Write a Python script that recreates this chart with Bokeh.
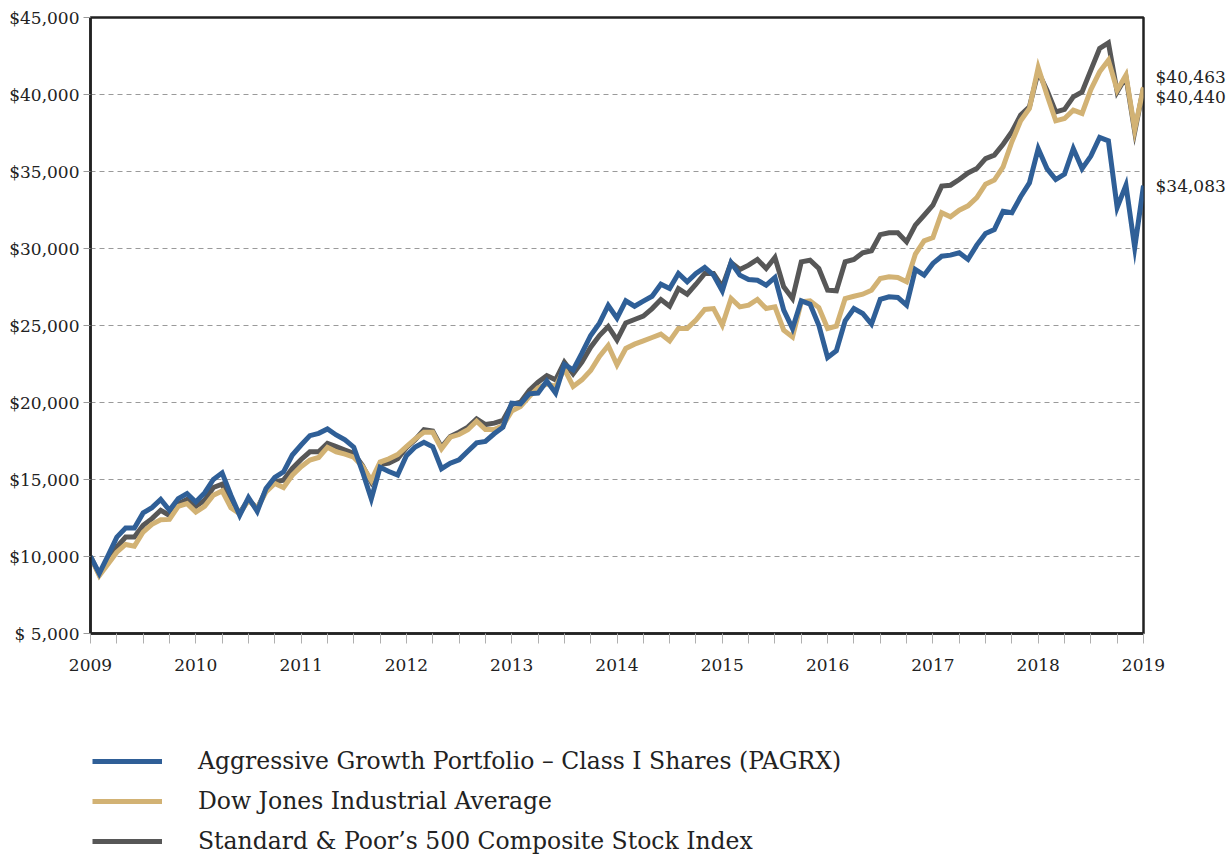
from bokeh.plotting import figure
from bokeh.layouts import column
from bokeh.models import Range1d, FixedTicker, Legend, LegendItem, LinearAxis
from bokeh.embed import file_html
from bokeh.resources import INLINE

# ---- data (monthly values, Jan 2009 .. Jan 2019) ----
start_year = 2009
n_months = 121
x_vals = [start_year + m / 12 for m in range(n_months)]

pagrx = [10000, 8900, 10050, 11260, 11850, 11850, 12830, 13170, 13700, 13000,
         13760, 14090, 13540, 14130, 15000, 15430, 13980, 12670, 13830, 12930,
         14410, 15130, 15500, 16590, 17240, 17850, 18000, 18280, 17890, 17570,
         17100, 15500, 13750, 15790, 15520, 15290, 16550, 17110, 17420, 17130,
         15700, 16060, 16280, 16840, 17380, 17470, 17970, 18400, 19960, 19910,
         20560, 20610, 21390, 20610, 22470, 22120, 23200, 24350, 25150, 26300,
         25480, 26600, 26250, 26580, 26900, 27680, 27400, 28380, 27840, 28380,
         28770, 28270, 27250, 29090, 28270, 27990, 27940, 27620, 28120, 26000,
         24810, 26600, 26390, 25020, 22920, 23360, 25300, 26100, 25780, 25090,
         26700, 26860, 26820, 26320, 28640, 28270, 29030, 29500, 29570, 29720,
         29290, 30220, 30970, 31230, 32420, 32320, 33360, 34260, 36490, 35190,
         34480, 34830, 36490, 35190, 36000, 37210, 36990, 32660, 34110, 30060,
         34083]

dow = [10000, 8760, 9520, 10280, 10780, 10670, 11590, 12090, 12390, 12410,
       13260, 13430, 12890, 13260, 13980, 14260, 13170, 12780, 13650, 13110,
       14200, 14740, 14480, 15280, 15830, 16260, 16430, 17090, 16800, 16650,
       16450, 15850, 14950, 16130, 16340, 16620, 17140, 17640, 18070, 18070,
       16990, 17750, 17920, 18230, 18790, 18250, 18250, 18510, 19440, 19740,
       20390, 20950, 21210, 21040, 22190, 21040, 21470, 22080, 22990, 23700,
       22450, 23510, 23790, 24000, 24220, 24440, 24000, 24810, 24810, 25350,
       26040, 26100, 25020, 26750, 26210, 26320, 26690, 26100, 26210, 24700,
       24260, 26540, 26600, 26170, 24810, 24960, 26750, 26900, 27030, 27290,
       28050, 28160, 28120, 27840, 29630, 30500, 30710, 32320, 32060, 32490,
       32770, 33310, 34180, 34440, 35300, 36930, 38290, 39090, 41750, 39960,
       38290, 38440, 38980, 38770, 40320, 41470, 42230, 40280, 41260, 37730,
       40463]

sp500 = [10000, 8830, 9740, 10610, 11260, 11260, 12020, 12460, 13000, 12670,
         13430, 13700, 13260, 13650, 14480, 14700, 13430, 12830, 13700, 13110,
         14300, 14850, 14960, 15720, 16300, 16800, 16800, 17350, 17130, 16910,
         16700, 15910, 14830, 15970, 16060, 16340, 17060, 17580, 18230, 18140,
         17100, 17790, 18070, 18400, 18940, 18570, 18660, 18830, 19870, 20020,
         20780, 21320, 21750, 21470, 22620, 21860, 22620, 23590, 24350, 24940,
         24060, 25170, 25390, 25610, 26100, 26690, 26250, 27400, 27030, 27680,
         28380, 28380, 27510, 29090, 28640, 28920, 29290, 28700, 29420, 27510,
         26750, 29130, 29240, 28700, 27290, 27250, 29130, 29290, 29720, 29850,
         30900, 31020, 31020, 30430, 31520, 32160, 32810, 34050, 34110, 34480,
         34910, 35190, 35840, 36060, 36770, 37580, 38660, 39200, 41470, 40280,
         38870, 39030, 39850, 40170, 41580, 42990, 43350, 40170, 41150, 37580,
         40440]

series_names = ["Aggressive Growth Portfolio \u2013 Class I Shares (PAGRX)",
                "Dow Jones Industrial Average",
                "Standard & Poor\u2019s 500 Composite Stock Index"]
year_ticks = list(range(2009, 2020))
quarter_ticks = [y + q / 4 for y in range(2009, 2019) for q in range(1, 4)]
y_ticks = list(range(5000, 45001, 5000))
y_min, y_max = 5000, 45000

# ---- styles / layout ----
BLUE = "#2F5F97"
GOLD = "#D2B274"
GRAY = "#575757"
FONT = "DejaVu Serif"
TXT = "#222222"
FRAME_H = 616
LW = 5
end_label_px_offsets = [10, -9, 0]   # dow, s&p, pagrx (screen px, up positive)

p = figure(width=1228, height=700,
           x_range=Range1d(2009, 2019), y_range=Range1d(y_min, y_max),
           output_backend="svg", toolbar_location=None,
           min_border_left=90, min_border_right=82,
           min_border_top=17, min_border_bottom=67)

p.outline_line_color = TXT
p.outline_line_width = 2.5
p.background_fill_color = "white"
p.border_fill_color = "white"

p.line(x_vals, sp500, line_color=GRAY, line_width=LW, line_join="miter")
p.line(x_vals, dow, line_color=GOLD, line_width=LW, line_join="miter")
p.line(x_vals, pagrx, line_color=BLUE, line_width=LW, line_join="miter")

# grid / axes
p.xgrid.visible = False
p.ygrid.grid_line_color = "#9a9a9a"
p.ygrid.grid_line_dash = "5 4"
p.ygrid.grid_line_width = 1

p.yaxis.ticker = FixedTicker(ticks=y_ticks)
p.yaxis.major_label_overrides = {v: ("$ 5,000" if v == 5000 else "${:,}".format(v)) for v in y_ticks}
p.yaxis.minor_tick_line_color = None
p.yaxis.major_tick_in = 0
p.yaxis.major_tick_out = 7
p.yaxis.major_tick_line_color = "#999999"
p.yaxis.major_label_standoff = 4

p.xaxis.ticker = FixedTicker(ticks=year_ticks, minor_ticks=quarter_ticks)
p.xaxis.major_label_overrides = {y: str(y) for y in year_ticks}
p.xaxis.major_tick_in = 0
p.xaxis.minor_tick_in = 0
p.xaxis.major_tick_out = 10
p.xaxis.minor_tick_out = 10
p.xaxis.major_tick_line_color = "#b0b0b0"
p.xaxis.minor_tick_line_color = "#b0b0b0"
p.xaxis.major_label_standoff = 15

for ax in (p.xaxis, p.yaxis):
    ax.axis_line_color = TXT
    ax.axis_line_width = 2.5
    ax.major_label_text_font = FONT
    ax.major_label_text_font_size = "17px"
    ax.major_label_text_color = TXT

# end-value labels as a right-hand axis
units_per_px = (y_max - y_min) / FRAME_H
end_vals = [dow[-1], sp500[-1], pagrx[-1]]
end_pos = [v + off * units_per_px for v, off in zip(end_vals, end_label_px_offsets)]
right_axis = LinearAxis(ticker=FixedTicker(ticks=end_pos),
                        major_label_overrides={pos: "${:,}".format(v) for pos, v in zip(end_pos, end_vals)},
                        axis_line_color=None, major_tick_line_color=None,
                        minor_tick_line_color=None, major_label_standoff=6,
                        major_label_text_font=FONT, major_label_text_font_size="17px",
                        major_label_text_color=TXT)
p.add_layout(right_axis, "right")

# ---- legend panel below ----
lg = figure(width=1228, height=155, x_range=Range1d(0, 1), y_range=Range1d(0, 1),
            output_backend="svg", toolbar_location=None,
            x_axis_type=None, y_axis_type=None,
            min_border_left=0, min_border_right=0, min_border_top=0, min_border_bottom=0)
lg.outline_line_color = None
lg.xgrid.visible = False
lg.ygrid.visible = False

key_colors = [BLUE, GOLD, GRAY]
nan = float("nan")
items = []
for name, col in zip(series_names, key_colors):
    r = lg.line(x=[nan], y=[nan], line_color=col, line_width=LW)  # legend key only
    items.append(LegendItem(label=name, renderers=[r]))

legend = Legend(items=items, location=(2, 0), orientation="vertical",
                glyph_width=70, glyph_height=20, label_standoff=36,
                spacing=12, padding=0, margin=0,
                label_text_font=FONT, label_text_font_size="23.5px",
                label_text_color=TXT, border_line_color=None,
                background_fill_alpha=0)
lg.add_layout(legend, "center")

open("out.html", "w").write(file_html(column(p, lg, spacing=0), INLINE))
